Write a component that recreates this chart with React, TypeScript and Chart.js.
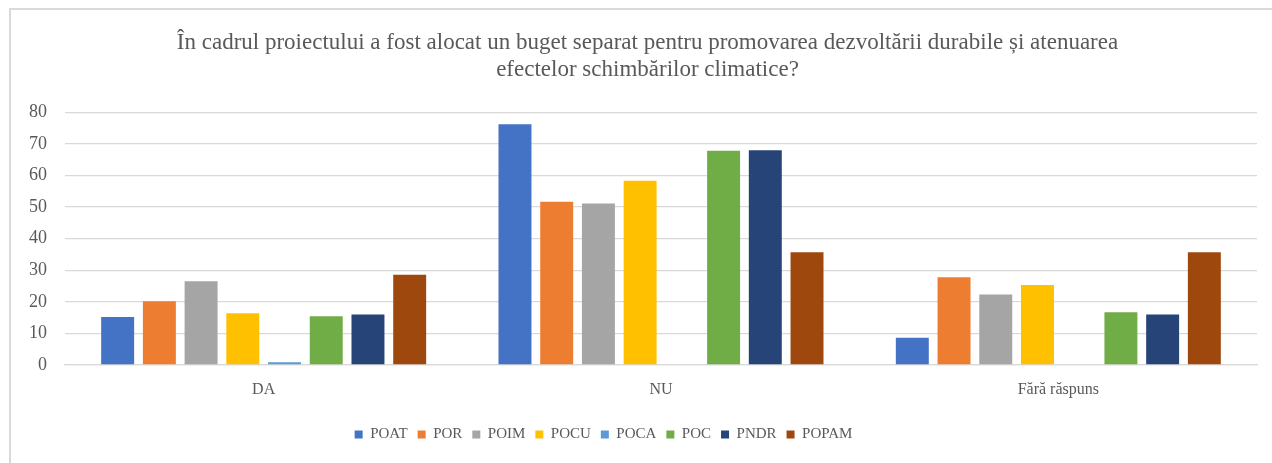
import React, { useEffect, useRef } from "react";
import { Chart, registerables } from "chart.js";

Chart.register(...registerables);

const categories = ["DA", "NU", "Fără răspuns"];
const seriesNames = ["POAT", "POR", "POIM", "POCU", "POCA", "POC", "PNDR", "POPAM"];
const POAT = [15.2, 76.2, 8.6];
const POR = [20.2, 51.7, 27.8];
const POIM = [26.5, 51.1, 22.3];
const POCU = [16.4, 58.3, 25.3];
const POCA = [0.9, 0, 0];
const POC = [15.4, 67.8, 16.7];
const PNDR = [16.0, 68.0, 16.0];
const POPAM = [28.6, 35.7, 35.7];
const seriesValues = [POAT, POR, POIM, POCU, POCA, POC, PNDR, POPAM];
const seriesColors = ["#4472C4", "#ED7D31", "#A5A5A5", "#FFC000", "#5B9BD5", "#70AD47", "#264478", "#9E480E"];
const yTicks = [0, 10, 20, 30, 40, 50, 60, 70, 80];
const titleLines = [
  "În cadrul proiectului a fost alocat un buget separat pentru promovarea dezvoltării durabile și atenuarea",
  "efectelor schimbărilor climatice?",
];

const FONT = "'Liberation Serif', 'DejaVu Serif', serif";
const TEXT = "#595959";
const GRID = "#d9d9d9";

const boxShift = {
  id: "boxShift",
  afterLayout(chart: any) {
    if (chart.legend) {
      chart.legend.left -= 25;
      chart.legend.right -= 25;
    }
    if (chart.titleBlock) {
      chart.titleBlock.left += 19;
      chart.titleBlock.right += 19;
    }
  },
};

export default function App() {
  const ref = useRef<HTMLCanvasElement | null>(null);
  useEffect(() => {
    if (!ref.current) return;
    const chart = new Chart(ref.current, {
      type: "bar",
      data: {
        labels: categories,
        datasets: seriesNames.map((name, i) => ({
          label: name,
          data: seriesValues[i],
          backgroundColor: seriesColors[i],
          borderWidth: 0,
          categoryPercentage: 0.84,
          barPercentage: 0.79,
        })),
      },
      plugins: [boxShift],
      options: {
        animation: false,
        responsive: false,
        maintainAspectRatio: false,
        layout: { padding: { top: 0, left: 0, right: 15, bottom: 11 } },
        plugins: {
          title: {
            display: true,
            text: titleLines,
            color: TEXT,
            font: { family: FONT, size: 23, weight: "normal", lineHeight: 1.18 },
            padding: { top: 29, bottom: 29 },
          },
          legend: {
            position: "bottom",
            labels: {
              color: TEXT,
              font: { family: FONT, size: 15 },
              boxWidth: 8,
              boxHeight: 8,
              padding: 10,
            },
          },
          tooltip: { enabled: false },
        },
        scales: {
          x: {
            grid: { display: false, drawTicks: false },
            border: { display: true, color: GRID, width: 1.3 },
            ticks: { color: TEXT, font: { family: FONT, size: 16 }, padding: 15 },
            afterFit: (s: any) => {
              s.height = 52;
            },
          },
          y: {
            min: 0,
            max: 80,
            afterBuildTicks: (s: any) => {
              s.ticks = yTicks.map((v) => ({ value: v }));
            },
            grid: { color: GRID, lineWidth: 1.3, drawTicks: false },
            border: { display: false },
            ticks: { color: TEXT, font: { family: FONT, size: 18 }, padding: 18 },
            afterFit: (s: any) => {
              s.width = 65;
            },
          },
        },
      },
    });
    return () => chart.destroy();
  }, []);
  return (
    <div style={{ position: "fixed", left: 0, top: 0, width: 1272, height: 463, overflow: "hidden", background: "#fff" }}>
      <canvas ref={ref} width={1272} height={463} style={{ position: "absolute", left: 0, top: 0 }} />
      <div
        style={{
          position: "absolute",
          left: 9,
          top: 8,
          width: 1300,
          height: 500,
          borderLeft: "2px solid #d9d9d9",
          borderTop: "2px solid #d9d9d9",
          pointerEvents: "none",
        }}
      />
    </div>
  );
}
